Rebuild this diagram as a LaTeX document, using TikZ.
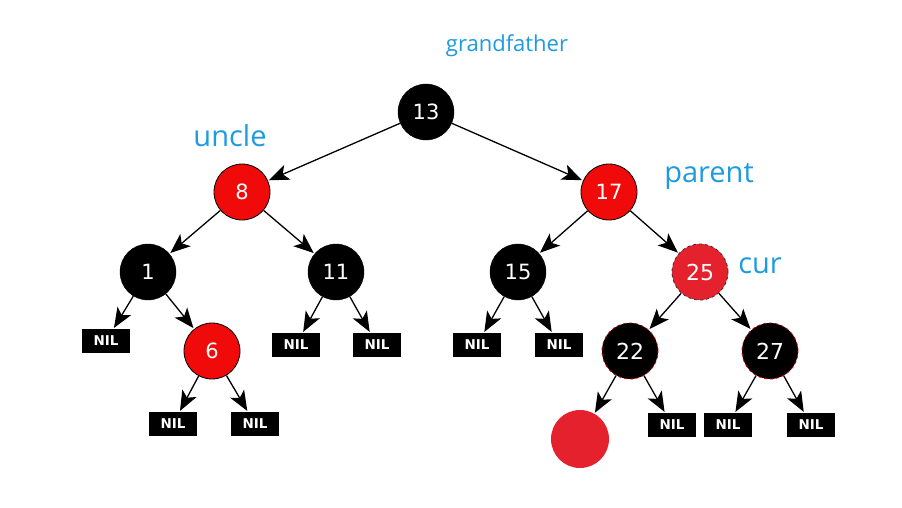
\documentclass[tikz,border=0pt]{standalone}
\usepackage{fontspec}
\setmainfont{DejaVu Sans}
\newfontfamily\labfont{Open Sans}
\usetikzlibrary{arrows.meta}
\definecolor{rbred}{HTML}{F00A0A}
\definecolor{curred}{HTML}{E5212D}
\definecolor{labblue}{HTML}{1E9BE0}
\tikzset{
  blk/.style={circle,fill=black,draw=black,minimum size=56pt,inner sep=0pt,text=white,font=\fontsize{21}{21}\selectfont},
  rd/.style={circle,fill=rbred,draw=black,line width=0.8pt,minimum size=56pt,inner sep=0pt,text=white,font=\fontsize{21}{21}\selectfont},
  curnode/.style={circle,fill=curred,draw=black!80,dashed,line width=0.8pt,minimum size=56pt,inner sep=0pt,text=white,font=\fontsize{22}{22}\selectfont},
  blkr/.style={circle,fill=black,draw=red!80!black,dashed,line width=0.8pt,minimum size=56pt,inner sep=0pt,text=white,font=\fontsize{22}{22}\selectfont},
  nilbox/.style={rectangle,fill=black,minimum width=48pt,minimum height=24pt,inner sep=0pt,text=white,font=\bfseries\fontsize{13.5}{13.5}\selectfont},
  newnode/.style={circle,fill=curred,minimum size=58pt,inner sep=0pt},
  conn/.style={line width=1.3pt,shorten >=1pt,-{Stealth[length=20pt,width=16pt,inset=5pt]}},
  lab/.style={text=labblue,font=\labfont\fontsize{29}{29}\selectfont,inner sep=0pt}
}
\begin{document}
\begin{tikzpicture}[x=1pt,y=-1pt]
\useasboundingbox[fill=white] (0,0) rectangle (902,507);
\node[blk] (n13) at (426,112) {13};
\node[rd] (n8) at (242,192) {8};
\node[rd] (n17) at (609,192) {17};
\node[blk] (n1) at (148,272) {1};
\node[blk] (n11) at (336,272) {11};
\node[blk] (n15) at (518,272) {15};
\node[curnode] (n25) at (700,272) {25};
\node[rd] (n6) at (212,351) {6};
\node[blkr] (n22) at (630,351) {22};
\node[blkr] (n27) at (770,351) {27};
\node[newnode] (nnew) at (580,439) {};
\node[nilbox] (nil1) at (106,341) {NIL};
\node[nilbox] (nil11a) at (296,345) {NIL};
\node[nilbox] (nil11b) at (377,345) {NIL};
\node[nilbox] (nil15a) at (477,345) {NIL};
\node[nilbox] (nil15b) at (559,345) {NIL};
\node[nilbox] (nil6a) at (173,424) {NIL};
\node[nilbox] (nil6b) at (255,424) {NIL};
\node[nilbox] (nil22) at (672,425) {NIL};
\node[nilbox] (nil27a) at (728,425) {NIL};
\node[nilbox] (nil27b) at (811,425) {NIL};
\draw[conn] (n13) -- (n8);
\draw[conn] (n13) -- (n17);
\draw[conn] (n8) -- (n1);
\draw[conn] (n8) -- (n11);
\draw[conn] (n17) -- (n15);
\draw[conn] (n17) -- (n25);
\draw[conn] (n1) -- (nil1);
\draw[conn] (n1) -- (n6);
\draw[conn] (n11) -- (nil11a);
\draw[conn] (n11) -- (nil11b);
\draw[conn] (n15) -- (nil15a);
\draw[conn] (n15) -- (nil15b);
\draw[conn] (n6) -- (nil6a);
\draw[conn] (n6) -- (nil6b);
\draw[conn] (n25) -- (n22);
\draw[conn] (n25) -- (n27);
\draw[conn] (n22) -- (nnew);
\draw[conn] (n22) -- (nil22);
\draw[conn] (n27) -- (nil27a);
\draw[conn] (n27) -- (nil27b);
\node[lab,font=\labfont\fontsize{22}{22}\selectfont] (lgf) at (507,46) {grandfather};
\node[lab] (lun) at (230,136) {uncle};
\node[lab] (lpa) at (709,176) {parent};
\node[lab] (lcur) at (760,266) {cur};
\end{tikzpicture}
\end{document}
